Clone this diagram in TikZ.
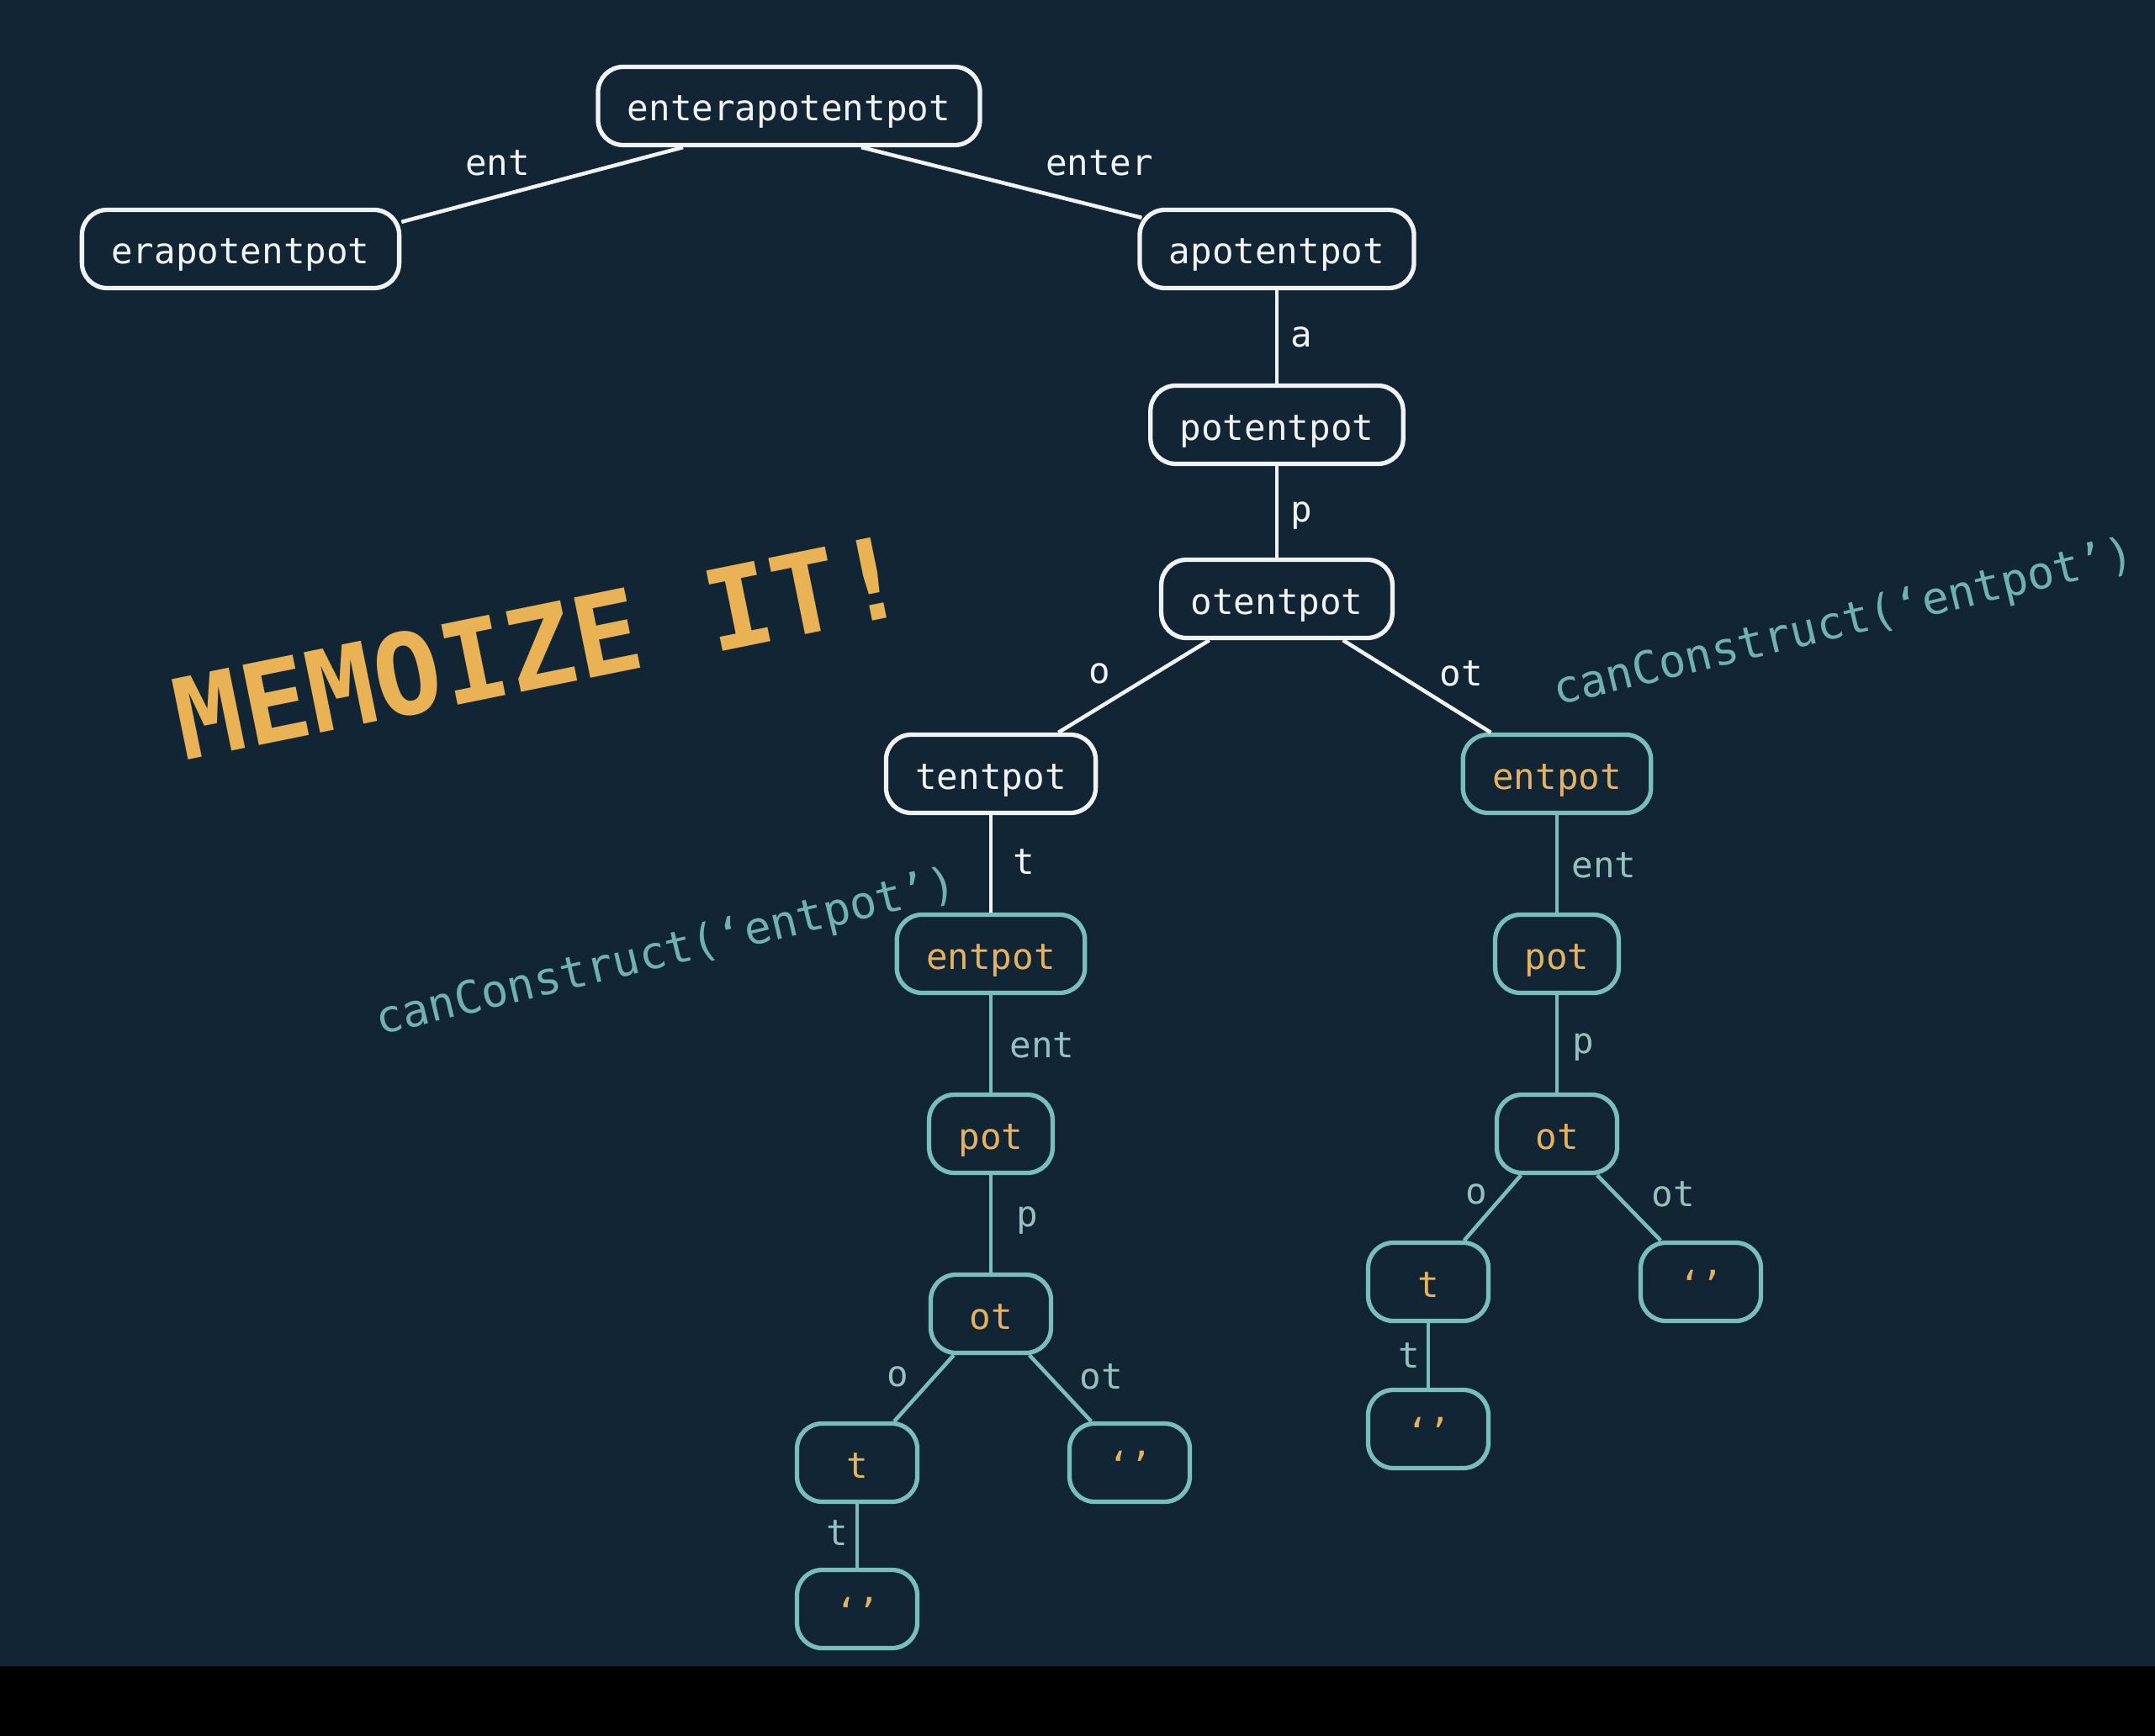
\documentclass[tikz,border=0pt]{standalone}
\usepackage{fontspec}
\setmonofont{DejaVu Sans Mono}
\definecolor{bgnavy}{RGB}{17,37,52}
\definecolor{chalk}{RGB}{240,242,244}
\definecolor{memoteal}{RGB}{122,190,188}
\definecolor{labteal}{RGB}{150,192,192}
\definecolor{callteal}{RGB}{112,178,176}
\definecolor{gold}{RGB}{229,178,94}
\definecolor{memogold}{RGB}{233,178,84}
\tikzset{
  box/.style={rounded corners=0.3cm, line width=1.5pt, inner xsep=0.35cm, inner ysep=0pt,
    minimum width=1.43cm, minimum height=0.93cm, text height=0.38cm, text depth=0.02cm,
    font=\fontsize{12.1}{14}\selectfont\ttfamily},
  wbox/.style={box, draw=chalk, text=chalk},
  tbox/.style={box, draw=memoteal, text=gold},
  wline/.style={chalk, line width=1.3pt},
  tline/.style={memoteal, line width=1.3pt},
  lbl/.style={inner sep=0pt, font=\fontsize{12.1}{14}\selectfont\ttfamily},
  wlbl/.style={lbl, text=chalk},
  tlbl/.style={lbl, text=labteal},
  memo/.style={inner sep=0pt, text=memogold, font=\fontsize{38}{40}\selectfont\ttfamily\bfseries},
  call/.style={inner sep=0pt, text=callteal, font=\fontsize{15.2}{17}\selectfont\ttfamily}
}
\begin{document}
\begin{tikzpicture}
  \useasboundingbox (0,0) rectangle (25.62,-20.64);
  \fill[bgnavy] (0,0) rectangle (25.62,-19.81);
  \fill[black] (0,-19.81) rectangle (25.62,-20.64);
  % upper part of the tree
  \node[wbox] (root) at ( 9.38, -1.26) {enterapotentpot};
  \node[wbox] (era)  at ( 2.86, -2.96) {erapotentpot};
  \node[wbox] (apo)  at (15.18, -2.96) {apotentpot};
  \node[wbox] (pot)  at (15.18, -5.05) {potentpot};
  \node[wbox] (oten) at (15.18, -7.12) {otentpot};
  \node[wbox] (tent) at (11.78, -9.20) {tentpot};
  % memoized subtrees
  \node[tbox] (entL) at (11.78,-11.34) {entpot};
  \node[tbox] (potL) at (11.78,-13.48) {pot};
  \node[tbox] (otL)  at (11.78,-15.62) {ot};
  \node[tbox] (tL)   at (10.19,-17.39) {t};
  \node[tbox] (emL)  at (13.43,-17.39) {‘’};
  \node[tbox] (emLL) at (10.19,-19.13) {‘’};
  \node[tbox] (entR) at (18.51, -9.20) {entpot};
  \node[tbox] (potR) at (18.51,-11.34) {pot};
  \node[tbox] (otR)  at (18.51,-13.48) {ot};
  \node[tbox] (tR)   at (16.98,-15.24) {t};
  \node[tbox] (emR)  at (20.22,-15.24) {‘’};
  \node[tbox] (emRR) at (16.98,-16.99) {‘’};
  % edges
  \draw[wline] ([xshift=-1.26cm]root.south) -- node[wlbl, xshift=-0.53cm, yshift=0.255cm] (e-era) {ent} ([yshift=-0.17cm]era.north east);
  \draw[wline] ([xshift=0.86cm]root.south) -- node[wlbl, xshift=1.165cm, yshift=0.23cm] (e-apo) {enter} ([xshift=0.05cm,yshift=-0.12cm]apo.north west);
  \foreach \a/\b/\l/\dx/\dy in {apo/pot/a/0.29/0, pot/oten/p/0.29/-0.045, oten/tent/o/-0.405/0.15,
      oten/entR/ot/0.525/0.15, tent/entL/t/0.39/0.02} {
    \draw[wline] (\a) -- node[wlbl, xshift=\dx cm, yshift=\dy cm] (e-\b) {\l} (\b);
  }
  \foreach \a/\b/\l/\dx/\dy in {entL/potL/ent/0.61/-0.02, potL/otL/p/0.43/0.04, otL/tL/o/-0.315/0.135,
      otL/emL/ot/0.485/0.135, tL/emLL/t/-0.24/0.03, entR/potR/ent/0.56/-0.02, potR/otR/p/0.31/-0.04,
      otR/tR/o/-0.195/0.16, otR/emR/ot/0.525/0.16, tR/emRR/t/-0.23/0} {
    \draw[tline] (\a) -- node[tlbl, xshift=\dx cm, yshift=\dy cm] (e-\b) {\l} (\b);
  }
  % notes
  \node[memo, rotate=11.5] (memo) at (6.42,-7.69) {MEMOIZE IT!};
  \node[call, rotate=13.5] (callL) at (7.92,-11.34) {canConstruct(‘entpot’)};
  \node[call, rotate=13.5] (callR) at (21.92,-7.42) {canConstruct(‘entpot’)};
\end{tikzpicture}
\end{document}
